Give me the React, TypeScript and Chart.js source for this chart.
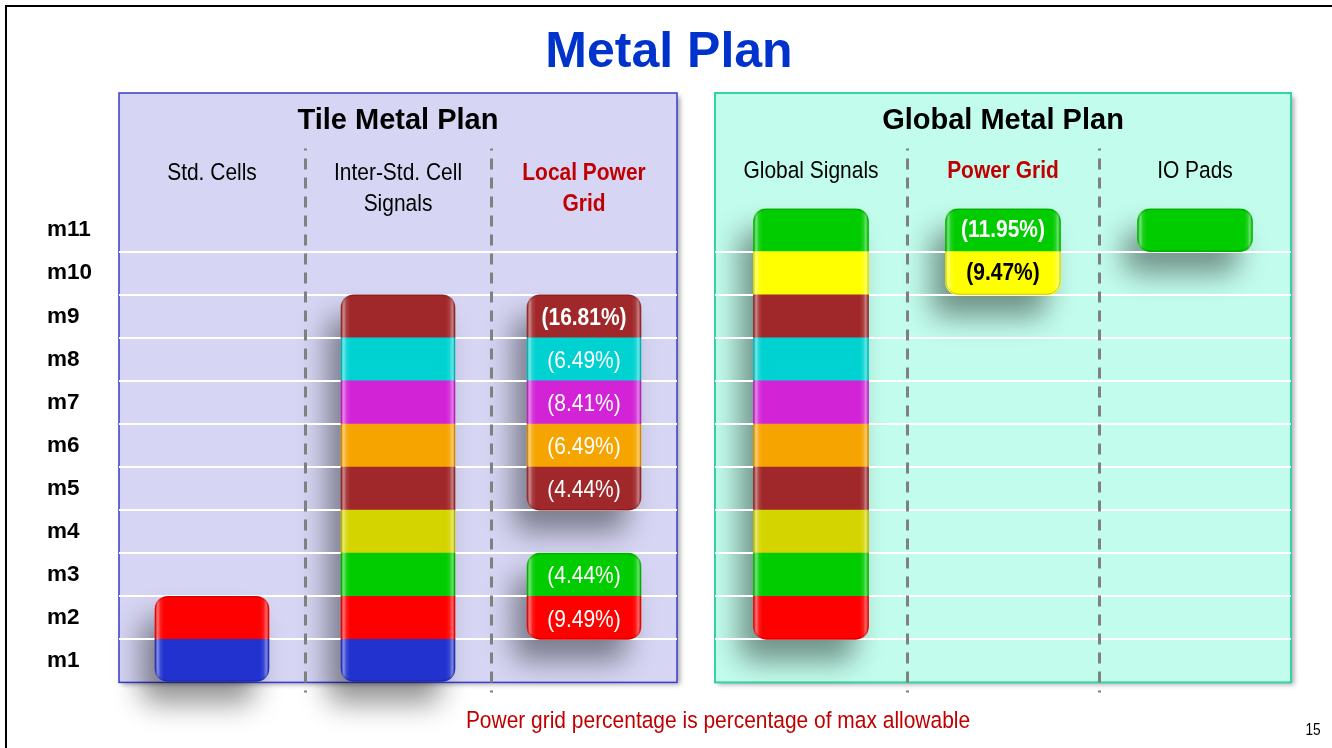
import React, { useEffect, useRef } from 'react';
import { Chart, registerables } from 'chart.js';

Chart.register(...registerables);

// ---------------- data ----------------
const layers = ['m1', 'm2', 'm3', 'm4', 'm5', 'm6', 'm7', 'm8', 'm9', 'm10', 'm11'];
const layerColors = ['#2132cf', '#ff0000', '#00cc00', '#d4d400', '#a1282a', '#f5a400', '#d224d6', '#00d2d2', '#a1282a', '#ffff00', '#00cc00'];

const tileColumns = [['Std. Cells'], ['Inter-Std. Cell', 'Signals'], ['Local Power', 'Grid']];
const globalColumns = [['Global Signals'], ['Power Grid'], ['IO Pads']];
const tileHighlighted = [false, false, true];
const globalHighlighted = [false, true, false];

// metals used by each column (metal numbers)
const stdCellsMetals = [1, 2];
const interStdCellMetals = [1, 2, 3, 4, 5, 6, 7, 8, 9];
const localPowerGridMetals = [2, 3, 5, 6, 7, 8, 9];
const globalSignalsMetals = [2, 3, 4, 5, 6, 7, 8, 9, 10, 11];
const powerGridMetals = [10, 11];
const ioPadsMetals = [11];

// power grid percentages (of max allowable), by metal
const localPctMetals = [2, 3, 5, 6, 7, 8, 9];
const localPctValues = [9.49, 4.44, 4.44, 6.49, 8.41, 6.49, 16.81];
const globalPctMetals = [10, 11];
const globalPctValues = [9.47, 11.95];

// ---------------- style ----------------
const ARIAL = '"Liberation Sans", Arial, Helvetica, sans-serif';
const NARROW_SCALE = 0.855; // Arial Narrow look: Liberation Sans squeezed horizontally
const RADIUS = 13;

type PanelCfg = {
  title: string;
  columns: string[][];
  highlighted: boolean[];
  columnMetals: number[][];
  pctColumn: number;
  pctMetals: number[];
  pctValues: number[];
  boldMetals: number[];
  darkTextMetals: number[];
  pctDy: number;
  padding: { left: number; top: number; right: number; bottom: number };
  yAxisWidth: number;
  showYLabels: boolean;
  headerBaseline: number;
  barThickness: number;
  panelFill: string;
  panelBorder: string;
  panelBorderWidth: number;
};

function roundRectPath(ctx: CanvasRenderingContext2D, x: number, y: number, w: number, h: number, r: number) {
  const rr = Math.min(r, w / 2, h / 2);
  ctx.beginPath();
  ctx.moveTo(x + rr, y);
  ctx.arcTo(x + w, y, x + w, y + h, rr);
  ctx.arcTo(x + w, y + h, x, y + h, rr);
  ctx.arcTo(x, y + h, x, y, rr);
  ctx.arcTo(x, y, x + w, y, rr);
  ctx.closePath();
}

function narrowText(ctx: CanvasRenderingContext2D, text: string, x: number, y: number, font: string, color: string, baseline: CanvasTextBaseline) {
  ctx.save();
  ctx.translate(x, y);
  ctx.scale(NARROW_SCALE, 1);
  ctx.font = font;
  ctx.fillStyle = color;
  ctx.textAlign = 'center';
  ctx.textBaseline = baseline;
  ctx.fillText(text, 0, 0);
  ctx.restore();
}

function runsOf(list: number[]): number[][] {
  const s = [...list].sort((a, b) => a - b);
  const out: number[][] = [];
  s.forEach((m) => {
    const last = out[out.length - 1];
    if (last && last[1] === m - 1) last[1] = m;
    else out.push([m, m]);
  });
  return out;
}

function stackRects(chart: any, cfg: PanelCfg) {
  const rects: { x: number; y: number; w: number; h: number }[] = [];
  cfg.columnMetals.forEach((list, ci) => {
    runsOf(list).forEach(([a, b]) => {
      const lo = chart.getDatasetMeta(a - 1).data[ci];
      const hi = chart.getDatasetMeta(b - 1).data[ci];
      if (!lo || !hi) return;
      const x = lo.x - lo.width / 2;
      rects.push({ x, y: hi.y, w: lo.width, h: lo.base - hi.y });
    });
  });
  return rects;
}

function panelPlugin(cfg: PanelCfg) {
  return {
    id: 'panelDecor',
    beforeDraw(chart: any) {
      const ctx: CanvasRenderingContext2D = chart.ctx;
      const { left, right, bottom } = chart.chartArea;
      const top = cfg.padding.top;
      // panel background with soft drop shadow
      ctx.save();
      ctx.shadowColor = 'rgba(0,0,0,0.35)';
      ctx.shadowBlur = 5;
      ctx.shadowOffsetX = 3;
      ctx.shadowOffsetY = 3;
      ctx.fillStyle = cfg.panelFill;
      ctx.fillRect(left, top, right - left, bottom - top);
      ctx.restore();
      ctx.save();
      ctx.strokeStyle = cfg.panelBorder;
      ctx.lineWidth = cfg.panelBorderWidth;
      ctx.strokeRect(left, top, right - left, bottom - top);
      ctx.restore();
      // bar shadows (shape drawn off-canvas, only the shadow lands here)
      const OFF = 4000;
      stackRects(chart, cfg).forEach((r) => {
        ctx.save();
        ctx.shadowColor = 'rgba(0,0,0,0.42)';
        ctx.shadowBlur = 28;
        ctx.shadowOffsetX = OFF - 14;
        ctx.shadowOffsetY = 22;
        ctx.fillStyle = '#000';
        roundRectPath(ctx, r.x - OFF, r.y, r.w, r.h, RADIUS);
        ctx.fill();
        ctx.restore();
      });
    },
    beforeDatasetsDraw(chart: any) {
      const ctx: CanvasRenderingContext2D = chart.ctx;
      const xs = chart.scales.x;
      const { top, bottom } = chart.chartArea;
      // dashed column dividers
      ctx.save();
      ctx.strokeStyle = '#808080';
      ctx.lineWidth = 3;
      ctx.setLineDash([11, 8]);
      ctx.lineDashOffset = 9;
      for (let i = 0; i < cfg.columns.length - 1; i++) {
        const x = Math.round((xs.getPixelForValue(i) + xs.getPixelForValue(i + 1)) / 2) + 0.5;
        ctx.beginPath();
        ctx.moveTo(x, top - 60);
        ctx.lineTo(x, bottom + 10);
        ctx.stroke();
      }
      ctx.restore();
      // column headers (category labels)
      cfg.columns.forEach((lines, i) => {
        const x = xs.getPixelForValue(i);
        const hl = cfg.highlighted[i];
        lines.forEach((line, k) => {
          narrowText(ctx, line, x, cfg.headerBaseline + k * 30.5, `${hl ? 'bold ' : ''}24.5px ${ARIAL}`, hl ? '#c00000' : '#000000', 'alphabetic');
        });
      });
    },
    afterDatasetsDraw(chart: any) {
      const ctx: CanvasRenderingContext2D = chart.ctx;
      // glossy edges
      stackRects(chart, cfg).forEach((r) => {
        ctx.save();
        roundRectPath(ctx, r.x, r.y, r.w, r.h, RADIUS);
        ctx.clip();
        const gl = ctx.createLinearGradient(r.x, 0, r.x + 9, 0);
        gl.addColorStop(0, 'rgba(255,255,255,0)');
        gl.addColorStop(0.3, 'rgba(255,255,255,0.45)');
        gl.addColorStop(0.6, 'rgba(255,255,255,0.12)');
        gl.addColorStop(1, 'rgba(255,255,255,0)');
        ctx.fillStyle = gl;
        ctx.fillRect(r.x, r.y, 9, r.h);
        const gr = ctx.createLinearGradient(r.x + r.w, 0, r.x + r.w - 9, 0);
        gr.addColorStop(0, 'rgba(255,255,255,0)');
        gr.addColorStop(0.3, 'rgba(255,255,255,0.4)');
        gr.addColorStop(0.6, 'rgba(255,255,255,0.1)');
        gr.addColorStop(1, 'rgba(255,255,255,0)');
        ctx.fillStyle = gr;
        ctx.fillRect(r.x + r.w - 9, r.y, 9, r.h);
        ctx.restore();
        ctx.save();
        ctx.strokeStyle = 'rgba(0,0,0,0.2)';
        ctx.lineWidth = 1;
        roundRectPath(ctx, r.x + 0.5, r.y + 0.5, r.w - 1, r.h - 1, RADIUS);
        ctx.stroke();
        ctx.restore();
      });
      // percentage labels
      cfg.pctMetals.forEach((m, i) => {
        const el = chart.getDatasetMeta(m - 1).data[cfg.pctColumn];
        if (!el) return;
        const bold = cfg.boldMetals.includes(m);
        narrowText(
          ctx,
          `(${cfg.pctValues[i].toFixed(2)}%)`,
          el.x,
          (el.y + el.base) / 2 + cfg.pctDy,
          `${bold ? 'bold ' : ''}24.5px ${ARIAL}`,
          cfg.darkTextMetals.includes(m) ? '#000000' : '#ffffff',
          'middle'
        );
      });
    },
  };
}

function buildChart(canvas: HTMLCanvasElement, cfg: PanelCfg) {
  const datasets = layers.map((name, li) => ({
    label: name,
    data: cfg.columnMetals.map((list) => (list.includes(li + 1) ? [li, li + 1] : null)),
    backgroundColor: layerColors[li],
    borderWidth: 0,
    borderSkipped: false,
    grouped: false,
    barThickness: cfg.barThickness,
    borderRadius: (c: any) => {
      const list = cfg.columnMetals[c.dataIndex] || [];
      const m = c.datasetIndex + 1;
      const t = list.includes(m + 1) ? 0 : RADIUS;
      const b = list.includes(m - 1) ? 0 : RADIUS;
      return { topLeft: t, topRight: t, bottomLeft: b, bottomRight: b };
    },
  }));

  return new Chart(canvas, {
    type: 'bar',
    data: { labels: cfg.columns.map((l) => l.join(' ')), datasets: datasets as any },
    options: {
      responsive: false,
      animation: false,
      events: [],
      layout: { padding: cfg.padding },
      plugins: {
        legend: { display: false },
        tooltip: { enabled: false },
        title: {
          display: true,
          fullSize: false,
          text: cfg.title,
          color: '#000000',
          font: { family: ARIAL, size: 29, weight: 'bold', lineHeight: '27px' },
          padding: { top: 14, bottom: 0 },
        },
      },
      scales: {
        x: {
          type: 'category',
          position: 'top',
          grid: { display: false },
          border: { display: false },
          ticks: { display: false },
          afterFit: (s: any) => {
            s.height = 74.6;
          },
        },
        y: {
          type: 'linear',
          position: 'left',
          min: 0,
          max: 11,
          border: { display: false },
          grid: {
            color: (c: any) => (c.tick && c.tick.value > 0 ? '#ffffff' : 'rgba(0,0,0,0)'),
            lineWidth: 2,
            drawTicks: false,
          },
          afterBuildTicks: (s: any) => {
            s.ticks = layers.map((_, i) => ({ value: i }));
          },
          ticks: {
            display: cfg.showYLabels,
            crossAlign: 'far',
            labelOffset: -21.5,
            padding: 0,
            color: '#000000',
            font: { family: ARIAL, size: 22.5, weight: 'bold' },
            callback: (_v: any, i: number) => layers[i],
          },
          afterFit: (s: any) => {
            s.width = cfg.yAxisWidth;
          },
        },
      },
    } as any,
    plugins: [panelPlugin(cfg)],
  });
}

const tileCfg: PanelCfg = {
  title: 'Tile Metal Plan',
  columns: tileColumns,
  highlighted: tileHighlighted,
  columnMetals: [stdCellsMetals, interStdCellMetals, localPowerGridMetals],
  pctColumn: 2,
  pctMetals: localPctMetals,
  pctValues: localPctValues,
  boldMetals: [9],
  darkTextMetals: [],
  pctDy: 2,
  padding: { left: 47, top: 93, right: 23, bottom: 65.6 },
  yAxisWidth: 72,
  showYLabels: true,
  headerBaseline: 180,
  barThickness: 114,
  panelFill: '#d6d6f4',
  panelBorder: '#3a3ad2',
  panelBorderWidth: 1.5,
};

const globalCfg: PanelCfg = {
  title: 'Global Metal Plan',
  columns: globalColumns,
  highlighted: globalHighlighted,
  columnMetals: [globalSignalsMetals, powerGridMetals, ioPadsMetals],
  pctColumn: 1,
  pctMetals: globalPctMetals,
  pctValues: globalPctValues,
  boldMetals: [10, 11],
  darkTextMetals: [10],
  pctDy: 0,
  padding: { left: 15, top: 93, right: 41, bottom: 65.6 },
  yAxisWidth: 0,
  showYLabels: false,
  headerBaseline: 177.5,
  barThickness: 115,
  panelFill: '#c2fcec',
  panelBorder: '#34d3a6',
  panelBorderWidth: 2,
};

export default function App() {
  const leftRef = useRef<HTMLCanvasElement | null>(null);
  const rightRef = useRef<HTMLCanvasElement | null>(null);

  useEffect(() => {
    const charts: Chart[] = [];
    if (leftRef.current) charts.push(buildChart(leftRef.current, tileCfg));
    if (rightRef.current) charts.push(buildChart(rightRef.current, globalCfg));
    return () => charts.forEach((c) => c.destroy());
  }, []);

  return (
    <div style={{ position: 'fixed', left: 0, top: 0, width: 1332, height: 748, overflow: 'hidden', background: '#ffffff' }}>
      <div
        style={{
          position: 'absolute', left: 5, top: 5, width: 1327, height: 743, boxSizing: 'border-box',
          borderTop: '2px solid #000', borderLeft: '2px solid #000',
        }}
      />
      <div
        style={{
          position: 'absolute', left: 369, top: 20, width: 600, height: 60, lineHeight: '60px', textAlign: 'center',
          fontFamily: ARIAL, fontWeight: 'bold', fontSize: 50, color: '#0033cc',
        }}
      >
        Metal Plan
      </div>
      <canvas ref={leftRef} width={700} height={748} style={{ position: 'absolute', left: 0, top: 0 }} />
      <canvas ref={rightRef} width={632} height={748} style={{ position: 'absolute', left: 700, top: 0 }} />
      <div
        style={{
          position: 'absolute', left: 318, top: 705, width: 800, height: 30, lineHeight: '30px', textAlign: 'center',
          fontFamily: ARIAL, fontSize: 24.5, color: '#c00000', transform: `scaleX(${NARROW_SCALE})`, transformOrigin: '400px 15px',
          whiteSpace: 'nowrap',
        }}
      >
        Power grid percentage is percentage of max allowable
      </div>
      <div
        style={{
          position: 'absolute', left: 1293, top: 720, width: 40, height: 20, lineHeight: '20px', textAlign: 'center',
          fontFamily: ARIAL, fontSize: 16, color: '#000', transform: `scaleX(${NARROW_SCALE})`, transformOrigin: '20px 10px',
        }}
      >
        15
      </div>
    </div>
  );
}
